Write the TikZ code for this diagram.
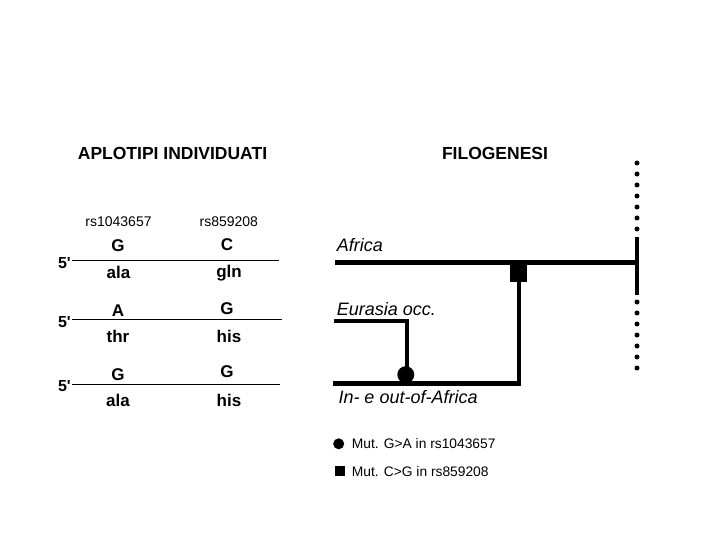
\documentclass[tikz,border=0pt]{standalone}
\usepackage{fontspec}
\setmainfont{Liberation Sans}
\begin{document}
\begin{tikzpicture}[x=1pt,y=-1pt,
  hd/.style={font=\fontsize{17.5}{20}\selectfont\bfseries, inner sep=0, anchor=base},
  rs/.style={font=\fontsize{14}{16}\selectfont, inner sep=0, anchor=base},
  nt/.style={font=\fontsize{17}{19}\selectfont\bfseries, inner sep=0, anchor=base},
  fp/.style={font=\fontsize{16}{18}\selectfont\bfseries, inner sep=0, anchor=base east},
  strand/.style={line width=1pt},
  br/.style={line width=4.5pt},
  pop/.style={font=\fontsize{18}{20}\selectfont\itshape, inner sep=0, anchor=base west},
  lg/.style={font=\fontsize{13.8}{16}\selectfont, inner sep=0, anchor=base west},
  dotc/.style={fill, circle, inner sep=0, minimum size=5pt},
  sqmark/.style={fill, rectangle, inner sep=0, minimum size=#1},
  cmark/.style={fill, circle, inner sep=0, minimum size=#1}]
\useasboundingbox (0,0) rectangle (720,540);

% headings
\node[hd] (h1) at (172.5,160) {APLOTIPI INDIVIDUATI};
\node[hd] (h2) at (495,160) {FILOGENESI};

% SNP labels
\node[rs] (rs1) at (118.5,226.5) {rs1043657};
\node[rs] (rs2) at (228.8,226.5) {rs859208};

% haplotype 1
\node[fp] (p1) at (71,268) {5\textquotesingle};
\coordinate (l1a) at (72,260.7);
\coordinate (l1b) at (279,260.7);
\draw[strand] (l1a) -- (l1b);
\node[nt] (n11) at (118,251.7) {G};
\node[nt] (n12) at (227,250) {C};
\node[nt] (a11) at (118.5,278) {ala};
\node[nt] (a12) at (229,277.5) {gln};

% haplotype 2
\node[fp] (p2) at (71,327) {5\textquotesingle};
\coordinate (l2a) at (72,319);
\coordinate (l2b) at (282,319);
\draw[strand] (l2a) -- (l2b);
\node[nt] (n21) at (118,316.7) {A};
\node[nt] (n22) at (227,314.3) {G};
\node[nt] (a21) at (118,342) {thr};
\node[nt] (a22) at (229,342) {his};

% haplotype 3
\node[fp] (p3) at (71,391.7) {5\textquotesingle};
\coordinate (l3a) at (72,384.3);
\coordinate (l3b) at (280,384.3);
\draw[strand] (l3a) -- (l3b);
\node[nt] (n31) at (118,380) {G};
\node[nt] (n32) at (227,377) {G};
\node[nt] (a31) at (118,406.7) {ala};
\node[nt] (a32) at (229,406.7) {his};

% phylogeny
\coordinate (afL) at (335,262.5);
\coordinate (root) at (637,262.5);
\coordinate (rootT) at (637,236.7);
\coordinate (rootB) at (637,295);
\draw[br] (afL) -- (root);
\draw[br] (rootT) -- (rootB);
\foreach \k in {0,...,6} {
  \node[dotc] (dt\k) at (637,163+11*\k) {};
  \node[dotc] (db\k) at (637,302+11*\k) {};
}
\node[sqmark=17pt] (sq) at (518.5,273) {};
\coordinate (botL) at (333.3,383.5);
\coordinate (botR) at (518.8,383.5);
\draw[br] (botL) -- (botR) -- (sq.south -| botR);
\coordinate (eurL) at (334,321);
\coordinate (eurC) at (407,321);
\coordinate (eurB) at (407,383.5);
\draw[br] (eurL) -- (eurC) -- (eurB);
\node[cmark=17pt] (ci) at (405.8,374.7) {};

\node[pop] (tAf) at (336.7,251.7) {Africa};
\node[pop] (tEu) at (336.7,315) {Eurasia occ.};
\node[pop] (tIn) at (338.3,403.3) {In- e out-of-Africa};

% legend
\node[cmark=11pt] (lc) at (338.7,443.8) {};
\node[lg] (lt1) at (351.7,448.3) {Mut. G>A  in rs1043657};
\node[sqmark=10pt] (ls) at (340,471.2) {};
\node[lg] (lt2) at (351.7,476.7) {Mut. C>G in rs859208};
\end{tikzpicture}
\end{document}
